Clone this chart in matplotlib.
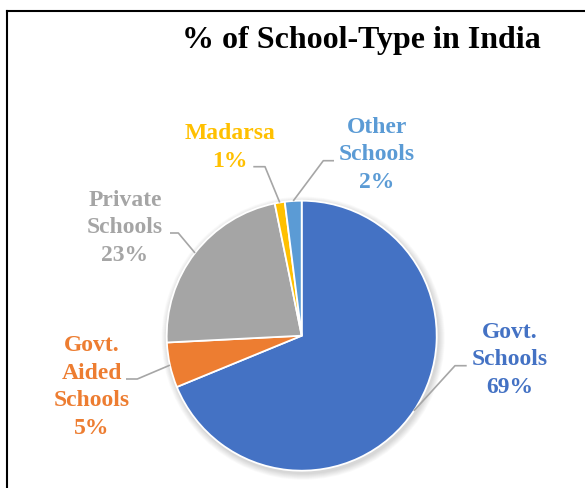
import numpy as np
import matplotlib
matplotlib.use("Agg")
import matplotlib.pyplot as plt
from matplotlib.patches import Circle
from matplotlib.lines import Line2D

# ---- data ----
categories = ["Govt.\nSchools", "Govt.\nAided\nSchools", "Private\nSchools", "Madarsa", "Other\nSchools"]
values = [68.8, 5.4, 22.6, 1.2, 2.0]
colors = ["#4472C4", "#ED7D31", "#A5A5A5", "#FFC000", "#5B9BD5"]
title = "% of School-Type in India"

# ---- layout (pixel coordinates, y measured from top) ----
W, H = 585, 489
center_px = (301.7, 336.7)
radius_px = 135.0
label_pos = [(510, 360), (92, 387), (125, 228), (230, 147.5), (377, 155)]
leader_end = [(466.7, 366.7), (126, 380), (170, 234), (253.3, 167.7), (334, 161.7)]
leader_elbow = [(455, 366.7), (137.3, 380), (178.3, 234), (265, 167.7), (323.3, 161.7)]

plt.rcParams['font.family'] = ['Liberation Serif', 'DejaVu Serif']

fig = plt.figure(figsize=(W / 100, H / 100), dpi=100)
ax = fig.add_axes([0, 0, 1, 1])

def Y(y):
    return H - y

cx, cy = center_px[0], Y(center_px[1])

# soft shadow
for i in range(8):
    ax.add_patch(Circle((cx + 1.5, cy - 2.5), radius_px + 1 + i * 0.8,
                        facecolor='black', edgecolor='none', alpha=0.018, zorder=1))

wedges, _ = ax.pie(values, colors=colors, startangle=90, counterclock=False,
                   radius=radius_px, center=(cx, cy),
                   wedgeprops=dict(edgecolor='white', linewidth=1.3))
for w in wedges:
    w.set_zorder(2)

ax.set_xlim(0, W)
ax.set_ylim(0, H)
ax.set_aspect('equal')
ax.axis('off')

for i, w in enumerate(wedges):
    mid = np.deg2rad((w.theta1 + w.theta2) / 2)
    ex = cx + radius_px * np.cos(mid)
    ey = cy + radius_px * np.sin(mid)
    el = leader_elbow[i]
    en = leader_end[i]
    ax.plot([ex, el[0], en[0]], [ey, Y(el[1]), Y(en[1])], color='#A6A6A6',
            linewidth=1.2, zorder=3, solid_capstyle='butt')
    pct = f"{values[i]:.0f}%"
    ax.text(label_pos[i][0], Y(label_pos[i][1]), f"{categories[i]}\n{pct}",
            ha='center', va='center', multialignment='center', fontsize=17,
            fontweight='bold', color=colors[i], linespacing=1.41, zorder=4)

ax.text(361, Y(41), title, ha='center', va='center', fontsize=23,
        fontweight='bold', color='black')

# frame (left and top edges)
fig.add_artist(Line2D([6.5 / W, 6.5 / W], [0, 1 - 12 / H], transform=fig.transFigure,
                      color='black', linewidth=1.5))
fig.add_artist(Line2D([6.5 / W, 1], [1 - 12 / H, 1 - 12 / H], transform=fig.transFigure,
                      color='black', linewidth=1.5))

fig.savefig("out.png", dpi=100)
